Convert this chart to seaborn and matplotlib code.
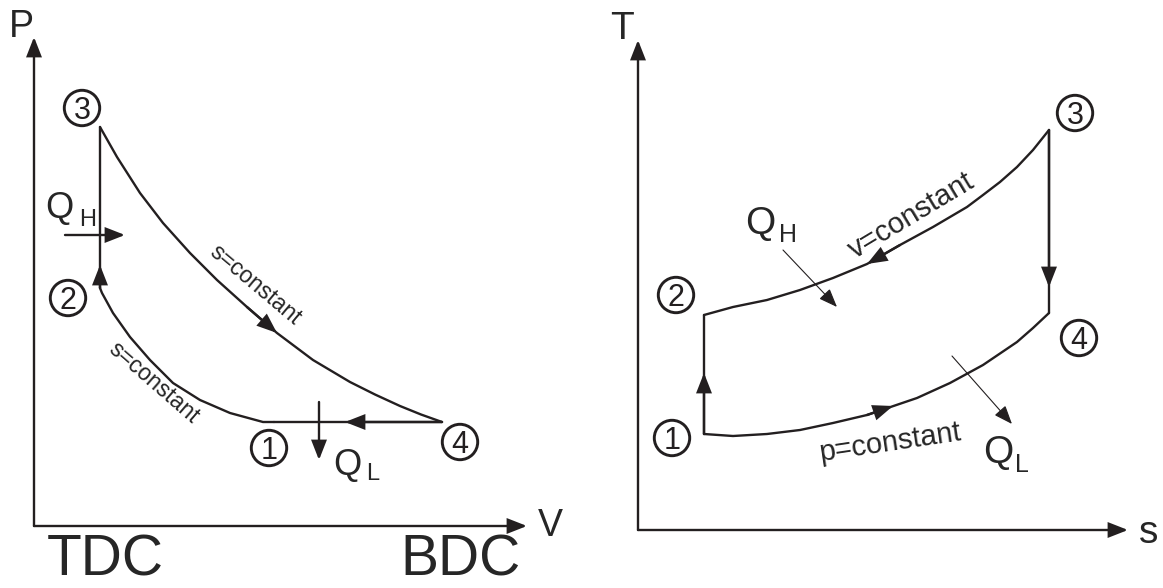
import matplotlib
matplotlib.use("Agg")
import matplotlib.pyplot as plt
import seaborn as sns
import pandas as pd

# ---------------- Otto cycle on the P-V plane ----------------
pv_V = [4.80, 1.32, 1.32, 8.16]          # states 1, 2, 3, 4
pv_P = [2.08, 4.76, 7.98, 2.08]

# isentropic expansion 3 -> 4
exp_V = [1.32, 1.66, 2.12, 2.58, 3.12, 3.66, 4.26, 4.86, 5.58, 6.32, 6.82, 7.32, 7.74, 8.16]
exp_P = [7.98, 7.38, 6.66, 6.06, 5.46, 4.92, 4.38, 3.86, 3.32, 2.88, 2.63, 2.40, 2.23, 2.08]

# isentropic compression 1 -> 2 (listed from state 2 outward)
comp_V = [1.32, 1.36, 1.58, 1.92, 2.32, 2.78, 3.32, 3.92, 4.58, 4.80]
comp_P = [4.76, 4.66, 4.26, 3.78, 3.32, 2.86, 2.52, 2.26, 2.08, 2.08]

# ---------------- the same cycle on the T-s plane ----------------
ts_s = [1.32, 1.32, 8.22, 8.22]          # states 1, 2, 3, 4
ts_T = [1.92, 4.30, 8.00, 4.34]

# constant-volume heat addition, drawn from 3 back to 2
vconst_s = [8.22, 7.90, 7.58, 7.24, 6.90, 6.58, 5.90, 5.24, 4.58, 3.90, 3.24, 2.58, 1.90, 1.32]
vconst_T = [8.00, 7.60, 7.26, 6.96, 6.70, 6.46, 6.06, 5.70, 5.32, 5.04, 4.80, 4.60, 4.46, 4.30]

# constant-pressure line from 1 to 4
pconst_s = [1.32, 1.90, 2.58, 3.24, 3.90, 4.58, 5.58, 6.24, 6.90, 7.58, 7.90, 8.22]
pconst_T = [1.92, 1.88, 1.92, 2.00, 2.14, 2.30, 2.64, 2.94, 3.30, 3.76, 4.04, 4.34]

state_numbers = ["1", "2", "3", "4"]

INK = "#231f20"
LW = 1.7
SANS = ["Liberation Sans", "DejaVu Sans"]

sns.set_theme(style="white")
plt.rcParams["font.family"] = SANS

W, H = 1163, 588
fig = plt.figure(figsize=(W / 100, H / 100), dpi=100)
ax1 = fig.add_axes([34 / W, (H - 526) / H, 500 / W, 500 / H])
ax2 = fig.add_axes([638 / W, (H - 530) / H, 500 / W, 500 / H])
for ax in (ax1, ax2):
    ax.set_xlim(0, 10)
    ax.set_ylim(0, 10)
    ax.axis("off")


def arrow(ax, tail, tip, lw=LW, scale=10, hl=1.15, hw=0.45):
    ax.annotate("", xy=tip, xytext=tail, annotation_clip=False,
                arrowprops=dict(arrowstyle=f"-|>,head_length={hl},head_width={hw}",
                                mutation_scale=scale, lw=lw, color=INK,
                                shrinkA=0, shrinkB=0, joinstyle="miter"))


def curve(ax, xs, ys, lw=LW):
    df = pd.DataFrame({"x": xs, "y": ys})
    sns.lineplot(data=df, x="x", y="y", sort=False, estimator=None, ax=ax,
                 color=INK, lw=lw, solid_joinstyle="round")
    ax.set_xlabel("")
    ax.set_ylabel("")


def state_labels(ax, spots):
    xs = [p[0] for p in spots]
    ys = [p[1] for p in spots]
    ax.scatter(xs, ys, s=650, marker="o", facecolors="none",
               edgecolors=INK, linewidths=2.1, clip_on=False, zorder=3)
    for num, (x, y) in zip(state_numbers, spots):
        ax.annotate(num, (x, y), xytext=(0, -7.8), textcoords="offset points",
                    fontsize=22, ha="center", va="baseline", color=INK,
                    annotation_clip=False)


# ======================= P-V diagram =======================
arrow(ax1, (0, 0), (9.86, 0))
arrow(ax1, (0, 0), (0, 9.78))
ax1.text(-0.26, 9.98, "P", fontsize=27, ha="center", va="center")
ax1.text(10.32, 0.0, "V", fontsize=27, ha="center", va="center")
ax1.text(1.42, -0.70, "TDC", fontsize=41, ha="center", va="center")
ax1.text(8.52, -0.70, "BDC", fontsize=41, ha="center", va="center")

curve(ax1, exp_V, exp_P)
curve(ax1, comp_V, comp_P)
curve(ax1, [pv_V[1], pv_V[2]], [pv_P[1], pv_P[2]])   # 2 -> 3
curve(ax1, [pv_V[0], pv_V[3]], [pv_P[0], pv_P[3]])   # 4 -> 1

# direction of the cycle
arrow(ax1, (pv_V[1], pv_P[1]), (1.32, 5.22))
arrow(ax1, (exp_V[6], exp_P[6]), (exp_V[7], exp_P[7]))
arrow(ax1, (pv_V[3], pv_P[3]), (6.22, 2.08))

# heat in / heat out
arrow(ax1, (0.62, 5.82), (1.82, 5.82))
arrow(ax1, (5.70, 2.48), (5.70, 1.32))
ax1.text(0.22, 6.16, "Q", fontsize=26, ha="left", va="baseline")
ax1.text(0.90, 6.00, "H", fontsize=17, ha="left", va="baseline")
ax1.text(5.98, 1.02, "Q", fontsize=26, ha="left", va="baseline")
ax1.text(6.64, 0.92, "L", fontsize=17, ha="left", va="baseline")

ax1.text(4.42, 4.82, "s=constant", fontsize=16.5, rotation=-40,
         rotation_mode="anchor", ha="center", va="center")
ax1.text(2.40, 2.86, "s=constant", fontsize=16.5, rotation=-41,
         rotation_mode="anchor", ha="center", va="center")

state_labels(ax1, [(4.70, 1.56), (0.68, 4.56), (0.96, 8.36), (8.52, 1.68)])

# ======================= T-s diagram =======================
arrow(ax2, (0, 0), (9.80, 0))
arrow(ax2, (0, 0), (0, 9.80))
ax2.text(-0.32, 10.02, "T", fontsize=28, ha="center", va="center")
ax2.text(10.22, -0.06, "s", fontsize=28, ha="center", va="center")

curve(ax2, vconst_s, vconst_T)
curve(ax2, pconst_s, pconst_T)
curve(ax2, [ts_s[0], ts_s[1]], [ts_T[0], ts_T[1]])   # 1 -> 2
curve(ax2, [ts_s[2], ts_s[3]], [ts_T[2], ts_T[3]])   # 3 -> 4

arrow(ax2, (ts_s[0], ts_T[0]), (1.32, 3.14))
arrow(ax2, (ts_s[2], ts_T[2]), (8.22, 4.86))
arrow(ax2, (vconst_s[7], vconst_T[7]), (vconst_s[8], vconst_T[8]))
arrow(ax2, (pconst_s[5], pconst_T[5]), (5.10, 2.48))

# heat transfer pointers
arrow(ax2, (2.90, 5.60), (3.98, 4.46), lw=0.8)
arrow(ax2, (6.28, 3.48), (7.48, 2.12), lw=0.8)
ax2.text(2.14, 5.92, "Q", fontsize=28, ha="left", va="baseline")
ax2.text(2.82, 5.76, "H", fontsize=18, ha="left", va="baseline")
ax2.text(6.90, 1.34, "Q", fontsize=28, ha="left", va="baseline")
ax2.text(7.54, 1.16, "L", fontsize=18, ha="left", va="baseline")

ax2.text(5.46, 6.28, "v=constant", fontsize=21, rotation=31,
         rotation_mode="anchor", ha="center", va="center")
ax2.text(5.04, 1.74, "p=constant", fontsize=21, rotation=8.5,
         rotation_mode="anchor", ha="center", va="center")

state_labels(ax2, [(0.68, 1.84), (0.76, 4.70), (8.74, 8.34), (8.82, 3.84)])

fig.savefig("out.png", dpi=100, facecolor="white")
